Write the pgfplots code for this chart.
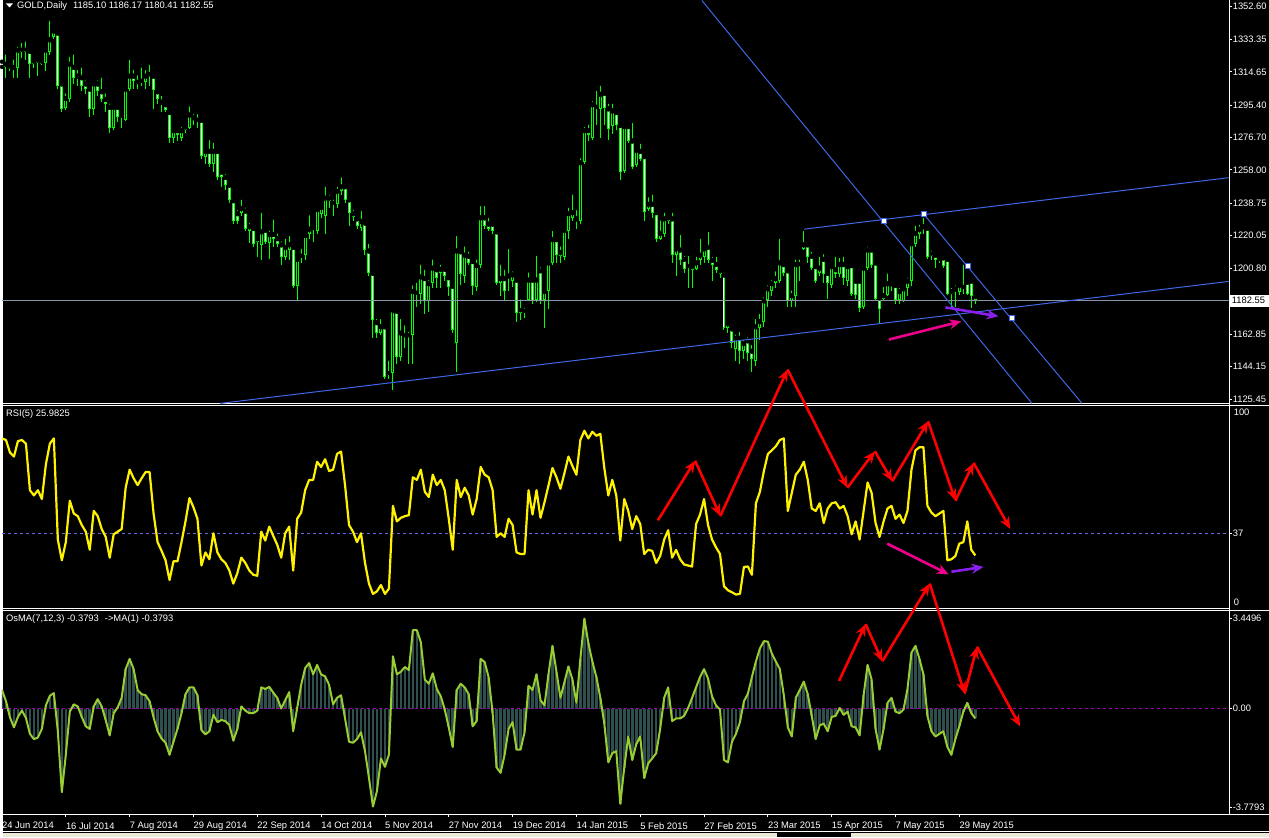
\documentclass[border=0pt]{standalone}
\usepackage{fontspec}
\setmainfont{Liberation Sans}
\usepackage{pgfplots}
\pgfplotsset{compat=1.18}
\usepackage{pgfplotstable}
\usetikzlibrary{arrows.meta}

\definecolor{candle}{HTML}{00FF00}
\definecolor{chan}{HTML}{3F67E8}
\definecolor{pline}{HTML}{8A96A6}
\definecolor{rsilev}{HTML}{6A6AE0}
\definecolor{osmabar}{HTML}{2F4F4F}
\definecolor{osmaline}{HTML}{9ACD32}
\definecolor{zerolev}{HTML}{A000B0}
\definecolor{violetarr}{HTML}{8A20F0}
\definecolor{tabbar}{HTML}{ECE9D8}
\newcommand\mtf{\fontsize{9.4}{10}\selectfont}

% daily bars: index, open, high, low, close
\pgfplotstableread{
i o h l c
0 1316.5 1320.5 1312.0 1317.5
1 1317.5 1325.9 1310.9 1319.3
2 1318.4 1320.5 1315.4 1316.9
3 1316.0 1322.9 1310.9 1317.5
4 1316.9 1330.4 1310.9 1327.4
5 1327.4 1332.5 1322.9 1326.2
6 1326.2 1333.4 1321.4 1327.4
7 1326.8 1327.4 1310.9 1319.3
8 1319.3 1322.3 1316.9 1320.5
9 1321.1 1322.9 1312.4 1319.9
10 1319.3 1321.4 1318.4 1320.5
11 1319.9 1328.9 1315.4 1327.4
12 1325.9 1345.4 1324.4 1333.4
13 1334.9 1339.4 1333.4 1338.5
14 1337.3 1337.9 1304.9 1306.4
15 1307.9 1309.4 1291.4 1292.9
16 1293.5 1303.4 1292.3 1299.5
17 1298.9 1324.4 1297.4 1319.3
18 1317.5 1325.9 1307.9 1310.9
19 1310.9 1316.9 1306.4 1312.4
20 1311.5 1318.4 1303.4 1306.4
21 1307.9 1310.9 1301.9 1304.9
22 1304.9 1306.4 1288.4 1292.9
23 1292.9 1309.4 1289.9 1307.9
24 1307.9 1310.9 1300.4 1303.4
25 1303.4 1312.4 1297.4 1298.9
26 1298.9 1303.4 1291.4 1295.9
27 1294.4 1297.4 1279.4 1282.4
28 1282.4 1295.9 1280.9 1294.4
29 1294.4 1295.9 1285.4 1288.4
30 1289.9 1291.4 1282.4 1288.4
31 1286.9 1306.4 1286.3 1304.9
32 1304.9 1322.9 1303.4 1312.4
33 1312.4 1316.9 1304.9 1309.4
34 1308.8 1313.9 1304.9 1307.9
35 1308.5 1318.4 1306.4 1309.4
36 1308.5 1316.9 1304.9 1312.4
37 1312.4 1319.9 1306.4 1313.3
38 1312.4 1313.9 1292.9 1304.3
39 1303.4 1304.9 1295.9 1298.9
40 1297.4 1301.9 1291.4 1295.9
41 1295.9 1297.4 1291.4 1292.3
42 1291.4 1292.9 1273.4 1276.4
43 1276.4 1282.4 1273.4 1280.9
44 1280.9 1281.5 1274.9 1277.9
45 1276.4 1283.9 1274.9 1280.9
46 1280.9 1285.4 1279.4 1283.0
47 1282.4 1295.9 1281.5 1289.9
48 1286.9 1291.4 1283.9 1288.4
49 1286.9 1291.4 1282.4 1286.3
50 1286.9 1288.4 1264.4 1265.9
51 1265.3 1270.4 1261.4 1268.9
52 1268.9 1276.4 1259.9 1261.4
53 1261.4 1274.9 1256.9 1268.9
54 1268.9 1270.4 1252.4 1253.9
55 1256.9 1258.4 1247.9 1253.9
56 1253.9 1256.9 1246.4 1249.4
57 1249.4 1250.9 1238.9 1240.4
58 1240.4 1241.9 1226.9 1228.4
59 1232.9 1235.9 1226.9 1228.4
60 1232.9 1241.9 1231.4 1235.9
61 1234.4 1237.4 1222.4 1223.9
62 1222.4 1228.4 1215.5 1225.4
63 1224.4 1226.9 1213.4 1214.9
64 1218.4 1220.3 1207.4 1216.4
65 1214.3 1234.4 1205.9 1222.4
66 1223.3 1225.4 1214.9 1216.4
67 1215.5 1223.9 1206.5 1220.9
68 1220.9 1230.5 1213.4 1217.9
69 1218.5 1222.4 1213.4 1214.9
70 1214.9 1217.9 1202.9 1207.4
71 1207.4 1219.4 1205.9 1213.4
72 1211.9 1220.9 1205.9 1214.9
73 1213.4 1214.9 1189.4 1190.9
74 1190.9 1208.9 1181.9 1206.5
75 1207.4 1213.4 1204.4 1208.3
76 1208.9 1222.4 1205.9 1220.3
77 1220.9 1232.9 1217.9 1223.9
78 1224.2 1226.9 1216.4 1224.4
79 1222.4 1237.4 1220.9 1235.3
80 1232.3 1238.3 1229.9 1236.5
81 1231.4 1249.4 1220.9 1241.9
82 1241.9 1244.9 1235.9 1239.9
83 1238.9 1241.9 1231.4 1238.3
84 1238.3 1249.4 1235.9 1245.8
85 1245.5 1254.8 1243.4 1248.5
86 1248.5 1250.9 1238.9 1240.4
87 1240.9 1243.4 1225.4 1232.9
88 1232.9 1235.9 1228.4 1230.5
89 1229.9 1231.4 1223.9 1225.4
90 1224.5 1235.3 1222.4 1228.4
91 1227.5 1228.4 1208.9 1211.9
92 1211.3 1216.4 1196.9 1198.4
93 1198.4 1199.9 1160.9 1171.4
94 1169.9 1172.9 1160.9 1163.9
95 1163.9 1172.9 1162.4 1167.5
96 1167.5 1168.4 1136.9 1138.4
97 1139.3 1148.9 1136.9 1140.5
98 1140.5 1177.9 1130.9 1177.1
99 1176.5 1177.4 1145.9 1149.5
100 1149.5 1172.9 1147.4 1163.9
101 1162.4 1169.3 1154.9 1161.5
102 1161.5 1165.4 1145.9 1162.4
103 1162.4 1192.4 1145.9 1187.9
104 1186.4 1193.9 1178.9 1186.9
105 1186.4 1204.4 1180.4 1196.3
106 1195.4 1201.4 1174.4 1181.9
107 1181.9 1195.4 1175.9 1192.4
108 1192.4 1207.4 1189.4 1201.4
109 1200.5 1202.9 1189.4 1195.4
110 1198.4 1204.4 1189.4 1200.8
111 1200.8 1201.4 1193.9 1196.9
112 1195.9 1198.4 1184.9 1190.3
113 1190.9 1192.4 1163.9 1165.4
114 1157.9 1220.9 1141.4 1211.3
115 1210.9 1213.4 1191.5 1197.5
116 1196.9 1214.9 1192.4 1208.9
117 1208.3 1211.9 1202.9 1204.4
118 1205.3 1207.4 1185.5 1190.9
119 1190.3 1207.4 1187.9 1202.9
120 1202.9 1238.3 1201.4 1230.5
121 1230.5 1238.3 1223.9 1225.4
122 1226.9 1231.4 1222.4 1223.9
123 1226.9 1228.4 1220.9 1222.4
124 1222.4 1223.9 1191.5 1192.4
125 1192.4 1204.4 1184.9 1195.4
126 1195.4 1201.4 1182.5 1187.9
127 1195.4 1213.4 1187.9 1196.9
128 1193.9 1200.5 1190.3 1197.5
129 1194.5 1196.9 1169.9 1175.0
130 1175.5 1184.3 1171.4 1176.8
131 1175.9 1179.5 1172.3 1176.5
132 1182.5 1199.9 1181.9 1194.5
133 1194.5 1195.4 1180.4 1181.9
134 1182.5 1209.5 1181.3 1194.5
135 1199.9 1202.9 1180.4 1181.9
136 1182.5 1189.4 1166.3 1187.9
137 1187.9 1205.9 1177.4 1204.4
138 1204.4 1223.9 1202.9 1217.9
139 1217.9 1219.4 1204.4 1208.9
140 1210.4 1214.9 1204.4 1208.3
141 1207.4 1223.9 1205.9 1223.3
142 1222.4 1237.4 1217.9 1232.9
143 1229.9 1244.9 1228.4 1233.5
144 1229.9 1235.9 1223.9 1228.4
145 1228.4 1265.9 1226.9 1262.3
146 1262.3 1283.9 1261.4 1280.9
147 1280.9 1285.4 1274.9 1277.9
148 1276.4 1298.9 1275.5 1295.9
149 1294.4 1304.9 1283.9 1293.5
150 1292.9 1307.9 1276.4 1301.9
151 1302.5 1303.4 1283.9 1293.5
152 1293.5 1297.4 1275.5 1281.5
153 1283.3 1297.4 1278.5 1292.3
154 1291.4 1292.9 1280.9 1283.9
155 1283.9 1285.4 1252.4 1256.9
156 1257.5 1284.5 1256.3 1283.3
157 1283.3 1283.9 1273.4 1274.9
158 1274.9 1286.3 1258.4 1259.9
159 1260.5 1271.9 1259.9 1269.5
160 1268.9 1274.3 1262.9 1264.4
161 1265.9 1267.4 1228.4 1233.5
162 1235.3 1243.4 1234.4 1238.3
163 1238.3 1244.9 1229.9 1232.9
164 1233.5 1234.4 1216.4 1217.9
165 1217.9 1229.9 1217.3 1221.5
166 1220.9 1234.4 1219.4 1229.9
167 1230.5 1231.4 1226.9 1228.4
168 1229.9 1234.4 1204.4 1208.9
169 1208.9 1214.9 1196.9 1212.5
170 1211.9 1221.5 1202.9 1205.9
171 1206.5 1209.5 1198.4 1200.5
172 1202.4 1209.5 1189.4 1201.4
173 1199.9 1204.4 1189.4 1202.3
174 1200.5 1208.9 1199.9 1204.4
175 1205.9 1219.4 1202.9 1208.9
176 1207.4 1214.9 1204.4 1212.5
177 1213.4 1223.3 1204.4 1205.9
178 1205.9 1208.9 1193.9 1202.9
179 1203.5 1208.9 1198.4 1199.9
180 1199.9 1200.5 1195.4 1197.5
181 1197.5 1199.9 1165.4 1166.3
182 1166.3 1170.5 1163.9 1169.3
183 1166.3 1166.9 1154.9 1157.9
184 1154.3 1163.9 1147.4 1160.9
185 1160.9 1165.4 1145.9 1153.4
186 1153.4 1160.9 1148.9 1157.9
187 1159.4 1162.4 1147.4 1151.9
188 1153.4 1157.9 1141.4 1148.9
189 1147.4 1172.9 1144.4 1167.5
190 1166.3 1175.9 1159.4 1170.5
191 1169.9 1185.5 1166.9 1182.5
192 1182.5 1192.4 1178.9 1189.4
193 1187.9 1195.4 1184.9 1192.4
194 1192.4 1200.5 1189.4 1195.4
195 1193.9 1219.4 1192.4 1204.4
196 1203.5 1205.9 1196.9 1198.4
197 1199.9 1201.4 1178.9 1181.9
198 1181.9 1189.4 1178.9 1185.5
199 1184.9 1207.4 1178.9 1203.5
200 1202.3 1207.4 1193.9 1203.5
201 1212.5 1223.9 1211.9 1214.9
202 1214.9 1216.4 1204.4 1207.4
203 1208.3 1211.9 1199.9 1201.4
204 1202.3 1204.4 1192.4 1193.9
205 1198.4 1208.9 1196.9 1201.4
206 1206.5 1210.4 1192.4 1197.5
207 1198.4 1199.9 1183.4 1192.4
208 1191.5 1204.4 1189.4 1202.3
209 1200.5 1208.9 1195.4 1197.5
210 1197.5 1208.3 1196.3 1203.5
211 1203.5 1208.9 1191.5 1195.4
212 1193.9 1204.4 1190.9 1202.3
213 1202.9 1204.4 1184.9 1186.4
214 1193.9 1195.4 1183.4 1185.5
215 1193.9 1195.4 1175.9 1178.3
216 1178.9 1202.9 1177.4 1201.4
217 1201.4 1214.9 1199.9 1211.9
218 1211.9 1214.3 1201.4 1202.9
219 1204.4 1205.9 1181.9 1183.4
220 1184.3 1184.9 1169.3 1177.4
221 1183.4 1191.5 1181.9 1185.5
222 1185.5 1199.3 1184.9 1192.4
223 1192.4 1193.9 1187.9 1190.9
224 1191.5 1192.4 1180.4 1182.5
225 1182.5 1190.9 1180.4 1187.9
226 1181.9 1191.5 1181.3 1189.4
227 1189.4 1196.9 1184.9 1193.9
228 1193.9 1217.3 1190.9 1215.5
229 1214.9 1226.9 1213.4 1221.5
230 1220.9 1227.5 1217.9 1223.9
231 1223.9 1231.4 1220.9 1225.4
232 1224.5 1226.9 1206.5 1207.4
233 1208.3 1212.5 1205.9 1209.5
234 1208.9 1210.4 1201.4 1205.9
235 1206.5 1208.9 1204.4 1205.9
236 1207.4 1208.3 1201.4 1202.3
237 1206.5 1207.4 1185.5 1186.4
238 1186.4 1190.9 1178.9 1187.9
239 1187.9 1192.4 1178.9 1189.4
240 1187.3 1193.9 1185.5 1191.5
241 1189.4 1204.4 1186.4 1190.3
242 1193.3 1195.4 1185.5 1186.4
243 1193.9 1194.5 1178.3 1184.9
244 1185.1 1186.17 1180.41 1182.55
}\candles

\pgfplotstableread{
i r
0 84.1
1 83.3
2 77.1
3 75.1
4 82.8
5 83.3
6 81.5
7 58.4
8 55.8
9 58.4
10 54.0
11 71.2
12 81.5
13 84.1
14 33.9
15 23.6
16 32.6
17 53.2
18 46.8
19 45.5
20 41.1
21 37.8
22 28.8
23 48.1
24 45.5
25 39.1
26 35.2
27 24.9
28 36.5
29 37.8
30 39.1
31 59.6
32 68.6
33 64.3
34 60.9
35 64.3
36 67.4
37 67.4
38 46.8
39 32.6
40 28.3
41 23.6
42 13.8
43 23.1
44 23.1
45 32.6
46 42.9
47 54.5
48 49.9
49 44.2
50 21.0
51 27.5
52 24.1
53 37.0
54 27.5
55 24.1
56 22.3
57 18.5
58 12.0
59 17.2
60 24.9
61 22.3
62 18.5
63 16.4
64 15.9
65 37.8
66 33.4
67 40.3
68 35.7
69 31.3
70 24.9
71 37.0
72 40.3
73 18.5
74 44.2
75 47.3
76 58.4
77 63.5
78 63.5
79 72.5
80 69.9
81 73.8
82 67.9
83 68.6
84 76.4
85 77.6
86 60.9
87 41.1
88 37.8
89 32.6
90 37.0
91 22.3
92 12.0
93 6.9
94 8.2
95 11.3
96 6.9
97 9.5
98 50.6
99 42.9
100 44.7
101 45.5
102 46.0
103 64.8
104 63.5
105 68.6
106 57.6
107 55.0
108 66.1
109 60.9
110 63.5
111 58.4
112 44.2
113 28.8
114 63.5
115 55.0
116 59.6
117 55.8
118 46.3
119 54.0
120 69.9
121 66.1
122 64.8
123 58.4
124 35.2
125 37.0
126 35.2
127 44.2
128 41.1
129 27.5
130 26.7
131 26.7
132 58.4
133 46.3
134 58.4
135 44.7
136 52.4
137 60.7
138 69.4
139 64.8
140 59.1
141 66.8
142 75.1
143 70.4
144 66.1
145 83.3
146 87.9
147 84.1
148 87.4
149 85.4
150 86.4
151 69.4
152 55.8
153 63.5
154 55.8
155 33.4
156 54.0
157 48.1
158 39.1
159 45.5
160 41.6
161 26.7
162 28.8
163 28.3
164 22.3
165 25.7
166 33.9
167 38.5
168 24.9
169 28.8
170 24.1
171 21.5
172 21.0
173 20.5
174 41.6
175 46.3
176 54.0
177 41.1
178 33.9
179 30.0
180 26.7
181 10.7
182 8.7
183 7.7
184 6.6
185 6.9
186 20.3
187 20.5
188 16.4
189 51.9
190 57.6
191 67.9
192 76.4
193 78.2
194 80.2
195 83.3
196 84.1
197 48.1
198 57.1
199 66.1
200 68.6
201 72.5
202 63.5
203 49.3
204 48.1
205 51.9
206 42.1
207 49.3
208 51.9
209 52.4
210 49.3
211 50.6
212 45.5
213 36.5
214 42.9
215 33.9
216 48.1
217 62.2
218 57.1
219 42.1
220 35.2
221 42.9
222 49.3
223 50.6
224 44.2
225 46.3
226 42.1
227 48.1
228 68.6
229 78.2
230 79.7
231 79.7
232 50.6
233 47.3
234 45.5
235 46.8
236 48.1
237 23.6
238 24.1
239 25.7
240 31.9
241 32.6
242 42.9
243 28.8
244 26.0
}\rsi

\pgfplotstableread{
i v
0 0.71
1 0.28
2 -0.34
3 -0.72
4 -0.32
5 -0.08
6 -0.36
7 -0.97
8 -1.17
9 -1.11
10 -0.78
11 0.12
12 0.49
13 0.59
14 -0.87
15 -3.2
16 -1.77
17 -0.12
18 0.16
19 0.08
20 -0.32
21 -0.68
22 -0.78
23 0.08
24 0.36
25 0.08
26 -0.44
27 -1.03
28 -0.18
29 0.04
30 0.41
31 1.51
32 1.90
33 1.51
34 0.71
35 0.55
36 0.51
37 0.28
38 -0.34
39 -0.87
40 -1.15
41 -1.31
42 -1.77
43 -1.27
44 -0.78
45 -0.18
46 0.55
47 0.81
48 0.81
49 0.51
50 -0.83
51 -0.99
52 -0.87
53 -0.24
54 -0.52
55 -0.44
56 -0.48
57 -0.63
58 -1.23
59 -0.78
60 0.08
61 -0.08
62 -0.18
63 -0.18
64 -0.08
65 0.81
66 0.75
67 0.83
68 0.61
69 0.41
70 0.0
71 0.32
72 0.63
73 -0.87
74 0.02
75 0.91
76 1.55
77 1.74
78 1.31
79 1.67
80 1.31
81 1.23
82 0.91
83 0.16
84 0.41
85 0.51
86 -0.38
87 -1.27
88 -1.31
89 -1.17
90 -0.91
91 -1.63
92 -2.66
93 -3.75
94 -3.16
95 -1.91
96 -2.23
97 -1.77
98 2.00
99 1.31
100 1.41
101 1.59
102 1.47
103 3.00
104 3.00
105 2.54
106 1.11
107 0.95
108 1.35
109 0.75
110 0.47
111 -0.04
112 -0.72
113 -1.47
114 0.71
115 0.95
116 0.81
117 0.55
118 -0.68
119 -0.48
120 1.90
121 1.78
122 1.2
123 -0.18
124 -2.26
125 -2.46
126 -1.77
127 -0.78
128 -0.52
129 -1.57
130 -1.57
131 -0.91
132 0.87
133 0.71
134 1.31
135 0.32
136 0.12
137 1.31
138 2.40
139 1.41
140 0.41
141 1.01
142 1.61
143 1.11
144 0.22
145 1.90
146 3.44
147 2.50
148 1.80
149 1.21
150 0.41
151 -0.58
152 -2.06
153 -1.71
154 -1.63
155 -3.65
156 -2.26
157 -1.07
158 -1.97
159 -1.37
160 -1.07
161 -2.66
162 -2.10
163 -1.91
164 -1.71
165 -0.78
166 0.41
167 0.81
168 -0.48
169 -0.38
170 -0.38
171 -0.28
172 0.02
173 0.41
174 0.81
175 1.21
176 1.51
177 1.15
178 0.47
179 0.12
180 -0.04
181 -1.97
182 -2.06
183 -1.27
184 -0.97
185 -0.52
186 0.28
187 0.57
188 1.21
189 1.80
190 2.30
191 2.58
192 2.56
193 2.10
194 1.80
195 1.51
196 0.51
197 -0.72
198 -1.07
199 0.41
200 0.71
201 1.03
202 0.55
203 -0.28
204 -1.17
205 -0.64
206 -0.58
207 -0.87
208 -0.32
209 -0.28
210 0.02
211 -0.24
212 -0.12
213 -0.68
214 -0.72
215 -1.03
216 0.51
217 1.67
218 1.11
219 -0.78
220 -1.57
221 -0.78
222 0.22
223 0.41
224 -0.12
225 -0.18
226 -0.04
227 0.75
228 2.14
229 2.40
230 1.90
231 1.31
232 -0.28
233 -0.87
234 -1.07
235 -0.97
236 -0.87
237 -1.47
238 -1.77
239 -1.17
240 -0.68
241 -0.12
242 0.22
243 -0.18
244 -0.38
}\osma

\pgfplotsset{
  panel/.style={
    scale only axis, width=1230pt, xmin=0, xmax=307.5, anchor=north west,
    axis line style={draw=none},
    tick style={white, line width=0.8pt}, tick align=outside, major tick length=3pt,
    ticklabel style={white, font=\mtf, inner sep=1pt},
    xtick=\empty, ytick pos=right, yticklabel pos=right,
  },
}

\begin{document}
\begin{tikzpicture}
\begin{scope}[x=1pt,y=-1pt]
  \path[use as bounding box] (0,0) rectangle (1269,839);
  \fill[black] (0,0) rectangle (1269,839);
\end{scope}

% price panel
\begin{axis}[panel, at={(-1pt,0pt)}, height=404pt, ymin=1122.97, ymax=1355.89,
  ytick={1352.6,1333.35,1314.65,1295.4,1276.7,1258,1238.75,1220.05,1200.8,1162.85,1144.15,1125.45},
  yticklabels={1352.60,1333.35,1314.65,1295.40,1276.70,1258.00,1238.75,1220.05,1200.80,1162.85,1144.15,1125.45}]
  % wicks
  \addplot[only marks, mark=none,
    error bars/.cd, y dir=minus, y explicit, error mark=none,
    error bar style={candle, line width=1pt}]
    table[x=i, y=h, y error minus expr=\thisrow{h}-\thisrow{l}] {\candles};
  % bodies
  \addplot[only marks, mark=none,
    error bars/.cd, y dir=minus, y explicit, error mark=none,
    error bar style={candle, line width=3pt}]
    table[x=i, y expr={max(\thisrow{o},\thisrow{c})},
      y error minus expr={max(abs(\thisrow{o}-\thisrow{c}),0.6)}] {\candles};
  % bull: black inside
  \addplot[only marks, mark=none,
    restrict expr to domain={\thisrow{c}-\thisrow{o}}{1.3:1000},
    error bars/.cd, y dir=minus, y explicit, error mark=none,
    error bar style={black, line width=1pt}]
    table[x=i, y expr={\thisrow{c}-0.58},
      y error minus expr={\thisrow{c}-\thisrow{o}-1.16}] {\candles};
  % bear: white inside
  \addplot[only marks, mark=none,
    restrict expr to domain={\thisrow{o}-\thisrow{c}}{1.3:1000},
    error bars/.cd, y dir=minus, y explicit, error mark=none,
    error bar style={white, line width=1pt}]
    table[x=i, y expr={\thisrow{o}-0.58},
      y error minus expr={\thisrow{o}-\thisrow{c}-1.16}] {\candles};
  \addplot[pline, line width=1pt] coordinates {(0,1182.55) (307.5,1182.55)};
\end{axis}

% RSI panel
\begin{axis}[panel, at={(-1pt,-407pt)}, height=202pt, ymin=0, ymax=100,
  ytick={37}, yticklabels={37}]
  \addplot[rsilev, line width=1pt, dash pattern=on 3pt off 3pt] coordinates {(0,37) (307.5,37)};
  \addplot[yellow, line width=2.2pt, line join=round] table[x=i, y=r] {\rsi};
\end{axis}

% OsMA panel
\begin{axis}[panel, at={(-1pt,-612pt)}, height=204pt, ymin=-4.046, ymax=3.74,
  ytick={-3.7793,0,3.4496}, yticklabels={-3.7793,0.00,3.4496},
  xtick={0,16,...,240}, xtick pos=bottom,
  xticklabels={24 Jun 2014,16 Jul 2014,7 Aug 2014,29 Aug 2014,22 Sep 2014,14 Oct 2014,5 Nov 2014,27 Nov 2014,19 Dec 2014,14 Jan 2015,5 Feb 2015,27 Feb 2015,23 Mar 2015,15 Apr 2015,7 May 2015,29 May 2015},
  xticklabel style={anchor=north west, inner sep=0pt, yshift=-5pt}]
  \addplot[ycomb, osmabar, line width=2.6pt] table[x=i, y=v] {\osma};
  \addplot[zerolev, line width=1pt, dash pattern=on 3pt off 3pt] coordinates {(0,0) (307.5,0)};
  \addplot[osmaline, line width=2pt, line join=round] table[x=i, y=v] {\osma};
\end{axis}

\begin{scope}[x=1pt,y=-1pt]
  % frames
  \draw[white, line width=1pt] (0,404.5) -- (1229.5,404.5);
  \draw[white, line width=1pt] (0,406.5) -- (1269,406.5);
  \draw[white, line width=1pt] (0,609.5) -- (1229.5,609.5);
  \draw[white, line width=1pt] (0,611.5) -- (1269,611.5);
  \draw[white, line width=1pt] (0,816.5) -- (1269,816.5);
  \draw[white, line width=1pt] (1229.5,0) -- (1229.5,816.5);
  \draw[white, line width=1pt] (0,833.5) -- (1269,833.5);
  \fill[tabbar] (0,834.5) rectangle (776,839);
  \fill[tabbar] (850,834.5) rectangle (1269,839);

  % channel and pitchfork lines
  \begin{scope}
    \clip (0,0) rectangle (1229,404);
    \draw[chan, line width=1pt] (218,404) -- (1229,281.7);
    \draw[chan, line width=1pt] (803.3,229.3) -- (1229,177.7);
    \draw[chan, line width=1pt] (700.8,0) -- (1031.8,404);
    \draw[chan, line width=1pt] (923.3,214.3) -- (1082,404);
    \foreach \p in {(883.3,221.3),(923.3,214.3),(967.3,266),(1011.3,318)}
      \draw[chan, fill=white, line width=0.8pt] \p ++(-2.5,-2.5) rectangle ++(5,5);
  \end{scope}

  % hand-drawn arrows
  \tikzset{arr/.style={line width=2.6pt, -{Stealth[length=12pt,width=10pt]}}}
  \draw[arr, magenta] (888.3,340) -- (961,321.7);
  \draw[arr, violetarr] (945,307.7) -- (998.3,316.7);
  \draw[arr, magenta] (886.7,544.7) -- (948.3,575.4);
  \draw[arr, violetarr] (951,572.8) -- (983.3,568);
  \foreach \a/\b in {{656.7,521.3}/{694,461.5}, {694,461.5}/{719.3,517}, {719.3,517}/{786.7,370},
      {786.7,370}/{846.7,488.6}, {846.7,488.6}/{874.3,452}, {874.3,452}/{891.7,482},
      {891.7,482}/{927.7,422}, {927.7,422}/{955,501.6}, {955,501.6}/{973.3,463.6},
      {973.3,463.6}/{1010,530},
      {838.3,682.4}/{865,625.3}, {865,625.3}/{881.7,662.7}, {881.7,662.7}/{929.3,584.7},
      {929.3,584.7}/{964.3,695}, {964.3,695}/{976.7,648}, {976.7,648}/{1020,728}}
    \draw[arr, red] (\a) -- (\b);

  % texts
  \fill[white] (3,3) -- (10,3) -- (6.5,7) -- cycle;
  \node[anchor=west, white, font=\mtf, inner sep=0pt] at (14,5.5)
    {GOLD,Daily\hspace{6pt}1185.10 1186.17 1180.41 1182.55};
  \node[anchor=west, white, font=\mtf, inner sep=0pt] at (3,415) {RSI(5) 25.9825};
  \node[anchor=west, white, font=\mtf, inner sep=0pt] at (3,620)
    {OsMA(7,12,3) -0.3793\hspace{6pt}->MA(1) -0.3793};
  \node[anchor=west, white, font=\mtf, inner sep=0pt] at (1234,413) {100};
  \node[anchor=west, white, font=\mtf, inner sep=0pt] at (1234,603) {0};
  \fill[white] (1230,295) rectangle (1269,307);
  \node[anchor=west, black, font=\mtf, inner sep=0pt] at (1232,301) {1182.55};
\end{scope}
\end{tikzpicture}
\end{document}
